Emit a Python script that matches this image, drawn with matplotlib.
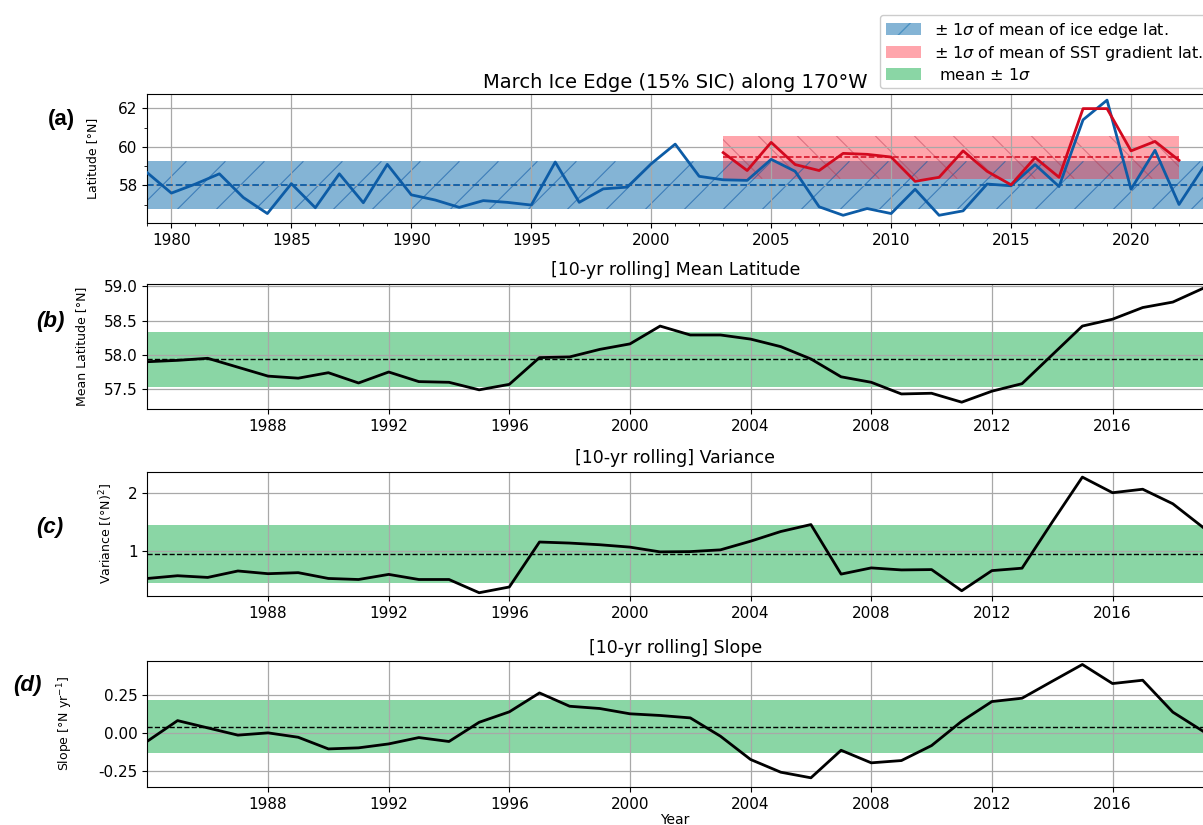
import matplotlib
matplotlib.use("Agg")
import matplotlib.pyplot as plt
import numpy as np
from matplotlib.collections import LineCollection
from matplotlib.patches import Patch, Rectangle

# March ice edge latitude along 170W (15% SIC), 1979-2023
ice_years = np.arange(1979, 2024)
ice_lat = [58.65, 57.60, 58.07, 58.60, 57.37, 56.54, 58.09, 56.84, 58.60, 57.10,
           59.09, 57.51, 57.24, 56.86, 57.21, 57.12, 56.98, 59.21, 57.12, 57.82,
           57.91, 59.12, 60.14, 58.47, 58.29, 58.26, 59.35, 58.73, 56.89, 56.45,
           56.80, 56.54, 57.80, 56.45, 56.68, 58.07, 57.98, 59.08, 57.94, 61.40,
           62.42, 57.80, 59.82, 57.01, 58.91]
ice_mean, ice_sd = 58.0, 1.25

# SST gradient latitude, 2003-2022
sst_years = np.arange(2003, 2023)
sst_lat = [59.70, 58.77, 60.23, 59.08, 58.77, 59.66, 59.61, 59.47, 58.21, 58.42,
           59.79, 58.73, 58.03, 59.44, 58.42, 61.98, 61.98, 59.79, 60.28, 59.30]
sst_mean, sst_sd = 59.46, 1.115

# 10-yr rolling statistics
roll_years = np.arange(1984, 2020)
roll_mean = [57.90, 57.92, 57.95, 57.82, 57.69, 57.66, 57.74, 57.59, 57.75, 57.61,
             57.60, 57.49, 57.57, 57.96, 57.97, 58.08, 58.16, 58.42, 58.29, 58.29,
             58.23, 58.12, 57.94, 57.68, 57.60, 57.43, 57.44, 57.31, 57.47, 57.58,
             58.00, 58.42, 58.52, 58.69, 58.77, 58.97]
roll_var = [0.522, 0.569, 0.540, 0.651, 0.604, 0.622, 0.522, 0.504, 0.592, 0.504,
            0.504, 0.276, 0.375, 1.150, 1.132, 1.103, 1.062, 0.980, 0.985, 1.015,
            1.164, 1.331, 1.451, 0.597, 0.704, 0.669, 0.675, 0.310, 0.657, 0.699,
            1.493, 2.269, 2.000, 2.060, 1.809, 1.403]
roll_slope = [-0.055, 0.081, 0.033, -0.015, 0.000, -0.029, -0.106, -0.099, -0.073, -0.031,
              -0.057, 0.070, 0.139, 0.264, 0.176, 0.161, 0.126, 0.115, 0.099, -0.022,
              -0.176, -0.260, -0.297, -0.115, -0.198, -0.183, -0.084, 0.077, 0.207, 0.229,
              0.341, 0.452, 0.326, 0.348, 0.137, 0.011]
# (mean, sd) of each rolling series
mean_band = (57.935, 0.405)
var_band = (0.945, 0.50)
slope_band = (0.042, 0.174)

BLUE_LINE = '#0d5ca6'
RED_LINE = '#d3091f'
BLUE_FILL = 'tab:blue'
RED_FILL = '#ff2a3a'
GREEN_FILL = '#3cbb6a'


def hatch_lines(ax, x0, x1, y0, y1, color, rising=True, spacing=39):
    # sparse 45-degree hatching clipped to a rectangle in data coords
    p0 = ax.transData.transform((x0, y0))
    p1 = ax.transData.transform((x1, y1))
    sx = (p1[0] - p0[0]) / (x1 - x0)
    height_px = p1[1] - p0[1]
    step = spacing / sx
    run = height_px / sx
    segs = []
    for s in np.arange(x0 - run, x1 + step, step):
        if rising:
            segs.append([(s, y0), (s + run, y1)])
        else:
            segs.append([(s, y1), (s + run, y0)])
    lc = LineCollection(segs, colors=color, linewidths=0.8, zorder=1.5)
    clip = Rectangle((x0, y0), x1 - x0, y1 - y0, transform=ax.transData)
    ax.add_collection(lc)
    lc.set_clip_path(clip)


fig = plt.figure(figsize=(12.03, 8.25), dpi=100)
left = 147.4 / 1203
width = 1 - left
ax_a = fig.add_axes([left, 0.7297, width, 0.1564])
ax_b = fig.add_axes([left, 0.5042, width, 0.1521])
ax_c = fig.add_axes([left, 0.2776, width, 0.1505])
ax_d = fig.add_axes([left, 0.0462, width, 0.1524])

for ax in (ax_a, ax_b, ax_c, ax_d):
    ax.grid(True, color='#a8a8a8', linewidth=0.9)
    ax.tick_params(labelsize=11)
    ax.spines['right'].set_visible(False)

# (a) ice edge and SST gradient latitude
ax_a.set_xlim(1979, 2023)
ax_a.set_ylim(56.05, 62.74)
ax_a.fill_between([1979, 2023], ice_mean - ice_sd, ice_mean + ice_sd,
                  color=BLUE_FILL, alpha=0.55, linewidth=0, zorder=1)
ax_a.fill_between([sst_years[0], sst_years[-1]], sst_mean - sst_sd, sst_mean + sst_sd,
                  color=RED_FILL, alpha=0.42, linewidth=0, zorder=1.2)
hatch_lines(ax_a, 1979, 2023, ice_mean - ice_sd, ice_mean + ice_sd,
            (0.05, 0.35, 0.65, 0.6), rising=True)
hatch_lines(ax_a, sst_years[0], sst_years[-1], sst_mean - sst_sd, sst_mean + sst_sd,
            (0.7, 0.2, 0.3, 0.45), rising=False)
ax_a.axhline(ice_mean, color=BLUE_LINE, linestyle='--', linewidth=1.3, zorder=2)
ax_a.plot([sst_years[0], sst_years[-1]], [sst_mean, sst_mean], color=RED_LINE,
          linestyle='--', linewidth=1.1, zorder=2)
ax_a.plot(ice_years, ice_lat, color=BLUE_LINE, linewidth=2.0, zorder=3)
ax_a.plot(sst_years, sst_lat, color=RED_LINE, linewidth=2.0, zorder=3)
ax_a.set_xticks(np.arange(1980, 2021, 5))
ax_a.set_xticks(np.arange(1979, 2024), minor=True)
ax_a.set_yticks([58, 60, 62])
ax_a.set_yticks([57, 59, 61], minor=True)
ax_a.set_title('March Ice Edge (15% SIC) along 170°W', fontsize=14, pad=4)
ax_a.set_ylabel('Latitude [°N]', fontsize=9)
ax_a.yaxis.set_label_coords(-0.0459, 0.5)

# (b)-(d) rolling statistics
panels = [
    (ax_b, roll_mean, mean_band, (57.21, 59.04), [57.5, 58.0, 58.5, 59.0],
     '[10-yr rolling] Mean Latitude', 'Mean Latitude [°N]', -0.0563),
    (ax_c, roll_var, var_band, (0.22, 2.36), [1, 2],
     '[10-yr rolling] Variance', 'Variance [(°N)$^2$]', -0.0307),
    (ax_d, roll_slope, slope_band, (-0.357, 0.474), [-0.25, 0.0, 0.25],
     '[10-yr rolling] Slope', 'Slope [°N yr$^{-1}$]', -0.0686),
]
for ax, series, (m, sd), ylim, yticks, title, ylabel, lx in panels:
    ax.set_xlim(roll_years[0], roll_years[-1])
    ax.set_ylim(*ylim)
    ax.axhspan(m - sd, m + sd, color=GREEN_FILL, alpha=0.6, linewidth=0, zorder=1)
    ax.axhline(m, color='black', linestyle='--', linewidth=1.0, zorder=2)
    ax.plot(roll_years, series, color='black', linewidth=2.0, zorder=3)
    ax.set_xticks(np.arange(1988, 2020, 4))
    ax.set_yticks(yticks)
    ax.set_title(title, fontsize=12.5, pad=6)
    ax.set_ylabel(ylabel, fontsize=9)
    ax.yaxis.set_label_coords(lx, 0.5)
ax_d.yaxis.set_major_formatter(matplotlib.ticker.FormatStrFormatter('%.2f'))
ax_d.set_xlabel('Year', fontsize=10, labelpad=1)

# panel letters
fig.text(61 / 1203, 1 - 119 / 825, '(a)', fontsize=16, fontweight='bold',
         family='Liberation Sans', ha='center', va='center')
for lab, x, y in [('(b)', 50, 321), ('(c)', 50, 528), ('(d)', 27.5, 686)]:
    fig.text(x / 1203, 1 - y / 825, lab, fontsize=16, fontweight='bold', style='italic',
             family='Liberation Sans', ha='center', va='center')

handles = [
    Patch(facecolor=BLUE_FILL, alpha=0.55, hatch='/', edgecolor=BLUE_FILL, linewidth=0),
    Patch(facecolor=RED_FILL, alpha=0.42, linewidth=0),
    Patch(facecolor=GREEN_FILL, alpha=0.6, linewidth=0),
]
labels = [r'$\pm$ 1$\sigma$ of mean of ice edge lat.',
          r'$\pm$ 1$\sigma$ of mean of SST gradient lat.',
          r' mean $\pm$ 1$\sigma$']
fig.legend(handles, labels, loc='upper left', bbox_to_anchor=(880 / 1203, 1 - 15 / 825),
           fontsize=11.5, framealpha=1.0, borderaxespad=0, labelspacing=0.25,
           borderpad=0.35, handlelength=2.2, handletextpad=0.8)

fig.savefig('out.png', dpi=100)
